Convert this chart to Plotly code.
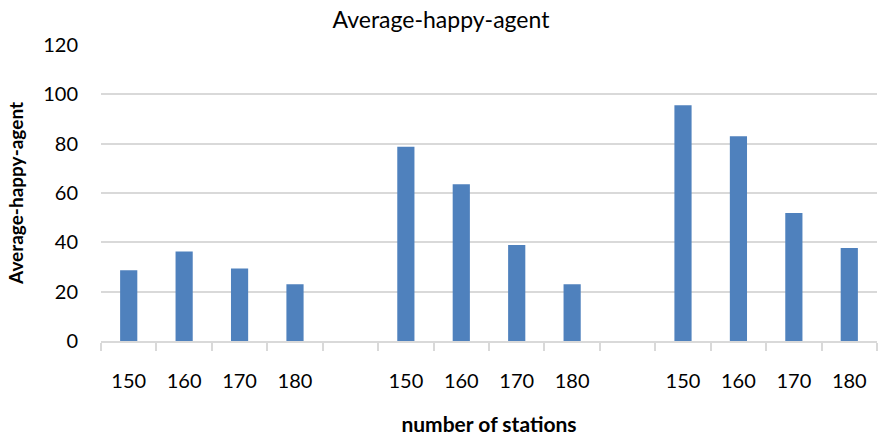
import plotly.graph_objects as go

labels = ["150", "160", "170", "180", "", "150", "160", "170", "180", "", "150", "160", "170", "180"]
values = [28.7, 36.3, 29.4, 23.0, None, 78.7, 63.5, 38.9, 23.0, None, 95.6, 83.0, 51.9, 37.7]
y_ticks = [0, 20, 40, 60, 80, 100, 120]

positions = list(range(len(labels)))

fig = go.Figure(go.Bar(
    x=positions, y=values, width=0.31,
    marker=dict(color="#4f81bd", line=dict(width=0)),
))

FONT = "Lato"
fig.update_layout(
    width=882, height=441,
    margin=dict(l=101, r=5, t=45, b=100),
    paper_bgcolor="white", plot_bgcolor="white",
    showlegend=False,
    font=dict(family=FONT, color="#000000"),
    title=dict(text="Average-happy-agent", x=0.5, xanchor="center", y=0.955, yanchor="middle",
               font=dict(family=FONT, size=23, color="#000000")),
)
fig.update_xaxes(
    automargin=False,
    range=[-0.5, len(labels) - 0.5],
    tickmode="array", tickvals=positions, ticktext=labels,
    ticks="", ticklabelstandoff=21,
    tickfont=dict(family=FONT, size=20),
    showgrid=False, zeroline=False,
    showline=True, linecolor="#d9d9d9", linewidth=1.5,
    minor=dict(tickmode="linear", tick0=-0.5, dtick=1, ticks="outside", ticklen=8,
               tickcolor="#d9d9d9", tickwidth=1.5, showgrid=False),
    title=dict(text="<b>number of stations</b>", font=dict(family=FONT, size=21), standoff=27),
)
fig.update_yaxes(
    automargin=False,
    range=[0, 120], tickmode="array", tickvals=y_ticks,
    showgrid=True, gridcolor="#d9d9d9", gridwidth=1.5,
    zeroline=False, showline=False, ticks="", ticklabelstandoff=22,
    tickfont=dict(family=FONT, size=20),
    title=dict(text="<b>Average-happy-agent</b>", font=dict(family=FONT, size=19), standoff=14),
)

fig.write_html("out.html", config={"displayModeBar": False},
               post_script="document.body.style.margin='0';document.body.style.padding='0';")
